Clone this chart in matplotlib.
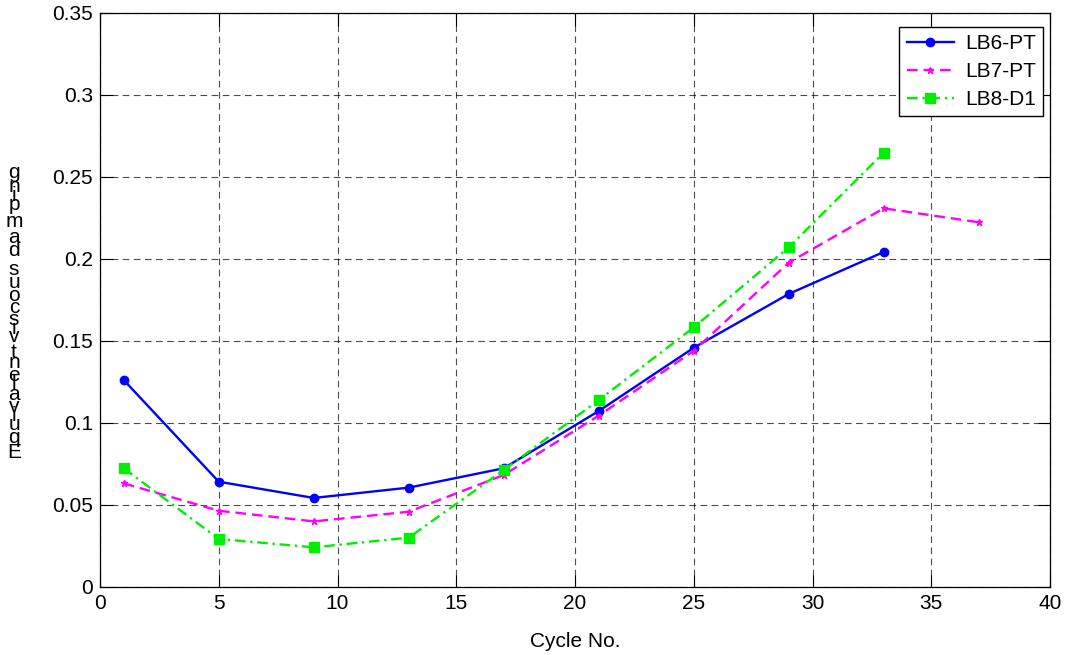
import matplotlib
matplotlib.use("Agg")
import matplotlib.pyplot as plt

plt.rcParams['font.family'] = ['Liberation Sans', 'DejaVu Sans']

cycles = [1, 5, 9, 13, 17, 21, 25, 29, 33, 37]
lb6_pt = [0.1262, 0.0642, 0.0543, 0.0606, 0.0724, 0.1073, 0.1459, 0.1787, 0.2043]
lb7_pt = [0.0632, 0.0465, 0.0400, 0.0459, 0.0683, 0.1045, 0.1440, 0.1978, 0.2309, 0.2224]
lb8_d1 = [0.0724, 0.0293, 0.0242, 0.0301, 0.0713, 0.1140, 0.1583, 0.2071, 0.2648]
series_labels = ['LB6-PT', 'LB7-PT', 'LB8-D1']
xlabel = 'Cycle No.'
ylabel = 'Equivalent viscous damping'
xticks = [0, 5, 10, 15, 20, 25, 30, 35, 40]
yticks = [0, 0.05, 0.1, 0.15, 0.2, 0.25, 0.3, 0.35]
yticklabels = ['0', '0.05', '0.1', '0.15', '0.2', '0.25', '0.3', '0.35']

W, H = 1070, 655
fig = plt.figure(figsize=(W / 100, H / 100), dpi=100)
ax = fig.add_axes([100 / W, 1 - 587 / H, 950 / W, (587 - 13) / H])

ax.plot(cycles[:len(lb6_pt)], lb6_pt, color='#0000ff', linestyle='-', linewidth=1.7,
        marker='o', markersize=6, label=series_labels[0])
ax.plot(cycles[:len(lb7_pt)], lb7_pt, color='#ff00ff', linestyle=(0, (4.5, 2.5)), linewidth=1.7,
        marker='*', markersize=5, label=series_labels[1])
ax.plot(cycles[:len(lb8_d1)], lb8_d1, color='#00ee00', linestyle=(0, (4.5, 2, 1, 2)), linewidth=1.7,
        marker='s', markersize=6.5, label=series_labels[2])

ax.set_xlim(0, 40)
ax.set_ylim(0, 0.35)
ax.set_xticks(xticks)
ax.set_yticks(yticks)
ax.set_yticklabels(yticklabels)
ax.tick_params(direction='in', top=True, right=True, labelsize=15, length=9, width=0.8, pad=5)
ax.grid(True, color='black', linestyle=(0, (6, 4)), linewidth=0.8, alpha=0.7)
for sp in ax.spines.values():
    sp.set_linewidth(0.9)
ax.set_xlabel(xlabel, fontsize=15, labelpad=14)

leg = ax.legend(loc='upper right', bbox_to_anchor=((1043 - 100) / 950, (587 - 27) / 574),
                fontsize=15, frameon=True, fancybox=False,
                edgecolor='black', framealpha=1, handlelength=2.3, borderaxespad=0.0,
                labelspacing=0.42, handletextpad=0.5, borderpad=0.35)
leg.get_frame().set_linewidth(1.0)

# y label: characters stacked upward (as in the reference rendering)
adv = {'E': 667, 'q': 556, 'u': 556, 'i': 222, 'v': 500, 'a': 556, 'l': 222, 'e': 556,
       'n': 556, 't': 278, ' ': 278, 's': 500, 'c': 500, 'o': 556, 'd': 556, 'm': 833,
       'p': 556, 'g': 556}
scale = 0.02368
ypos = 452.0
prev = None
for ch in ylabel:
    w = adv.get(ch, 556)
    if prev is not None:
        ypos -= scale * (prev / 2 + w / 2)
    if ch != ' ':
        fig.text(14 / W, 1 - ypos / H, ch, fontsize=15, ha='center', va='center',
                 family=['Liberation Sans', 'DejaVu Sans'])
    prev = w

fig.savefig('out.png', dpi=100)
